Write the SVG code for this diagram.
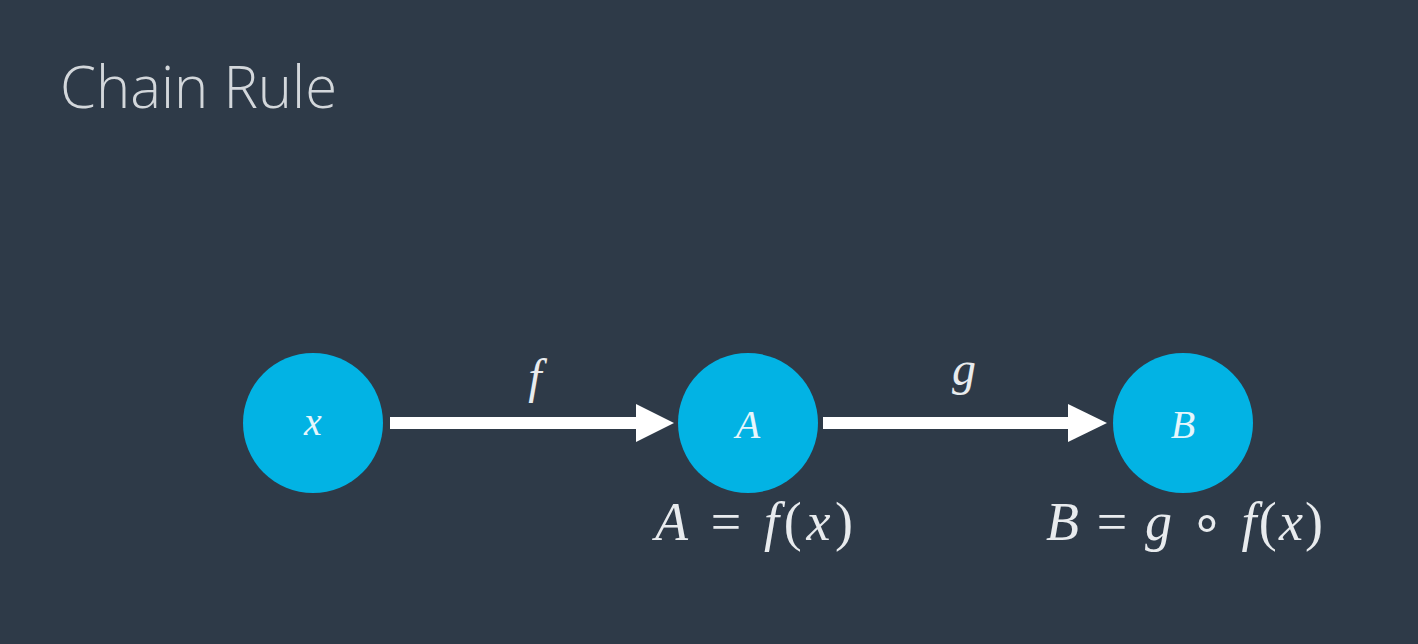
<svg xmlns="http://www.w3.org/2000/svg" width="1418" height="644" viewBox="0 0 1418 644">
<defs>
<style>
.node{fill:#02b3e4;}
.nl{font-family:"Liberation Serif",serif;font-style:italic;fill:#e6f6fc;text-anchor:middle;font-size:40px;}
.math{font-family:"Liberation Serif",serif;fill:#e8ebee;font-size:48px;}
.eq{font-size:54px;}
.mi{font-style:italic;}
.edge{stroke:#ffffff;stroke-width:12;fill:none;}
.head{fill:#ffffff;}
</style>
</defs>
<rect width="1418" height="644" fill="#2e3a48"/>
<text x="60" y="108" font-family="Open Sans, sans-serif" font-weight="300" font-size="58" fill="#d3d7db">Chain Rule</text>
<g id="connectors">
<line class="edge" x1="390" y1="423" x2="640" y2="423"/>
<polygon class="head" points="636,404 674,423 636,442"/>
<line class="edge" x1="823" y1="423" x2="1072" y2="423"/>
<polygon class="head" points="1068,404 1107,423 1068,442"/>
<text class="math mi" x="535" y="393" text-anchor="middle">f</text>
<text class="math mi" x="964" y="385" text-anchor="middle">g</text>
</g>
<g id="node-x">
<circle class="node" cx="313" cy="423" r="70"/>
<text class="nl" x="313" y="435" font-size="34">x</text>
</g>
<g id="node-A">
<circle class="node" cx="748" cy="423" r="70"/>
<text class="nl" x="748" y="438">A</text>
<text class="math eq" x="655" y="540" textLength="198" lengthAdjust="spacing"><tspan class="mi">A</tspan> = <tspan class="mi">f</tspan>(<tspan class="mi">x</tspan>)</text>
</g>
<g id="node-B">
<circle class="node" cx="1183" cy="423" r="70"/>
<text class="nl" x="1183" y="438">B</text>
<text class="math eq" x="1046" y="540" textLength="277" lengthAdjust="spacing"><tspan class="mi">B</tspan> = <tspan class="mi">g</tspan> ∘ <tspan class="mi">f</tspan>(<tspan class="mi">x</tspan>)</text>
</g>
</svg>
